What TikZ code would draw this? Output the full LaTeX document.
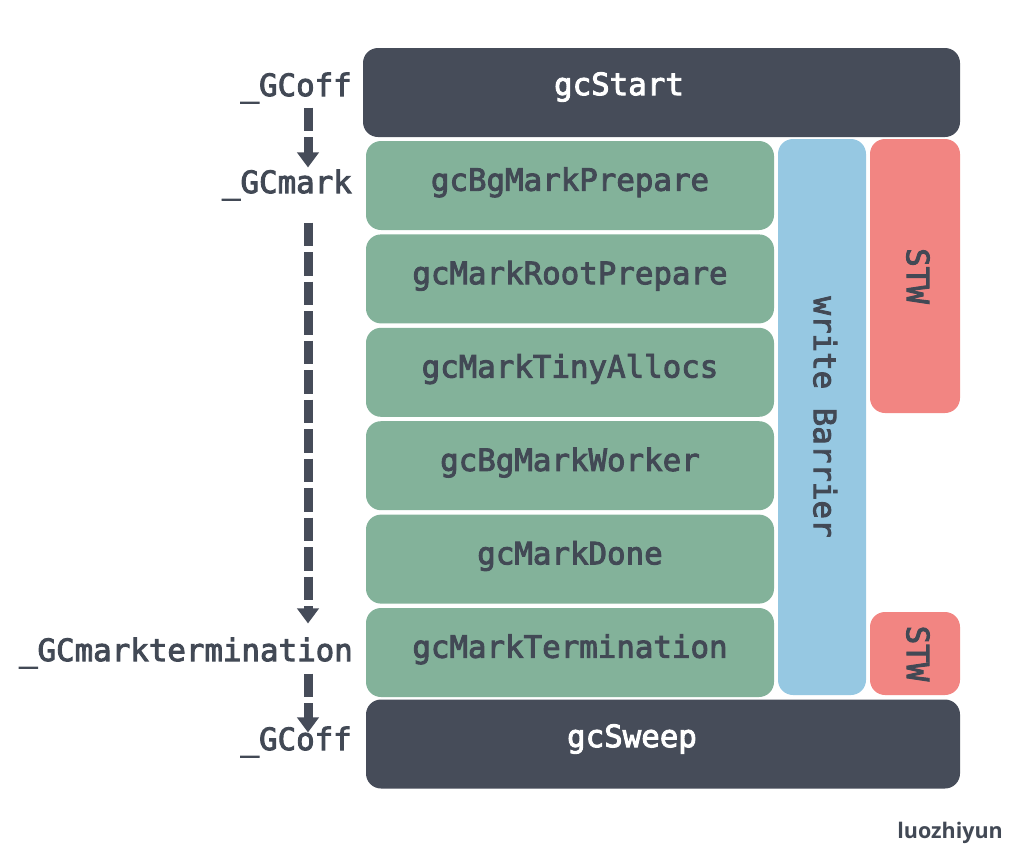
\documentclass[tikz,border=0pt]{standalone}
\usepackage{fontspec}
\newfontfamily\codefont{DejaVu Sans Mono}[FakeBold=3]
\newfontfamily\signfont{Open Sans}
\usetikzlibrary{positioning,arrows.meta}

\definecolor{slate}{HTML}{464C59}
\definecolor{ink}{HTML}{424955}
\definecolor{sage}{HTML}{83B29A}
\definecolor{sky}{HTML}{96C8E2}
\definecolor{coral}{HTML}{F28582}

\tikzset{
  code/.style={font=\codefont\fontsize{30.8}{30.8}\selectfont},
  box/.style={code, rounded corners=15pt, inner sep=0pt, minimum height=89pt,
    text height=23.5pt, text depth=13pt},
  darkbox/.style={box, fill=slate},
  lighttext/.style={code, text=white, inner sep=0pt},
  stage/.style={box, fill=sage, text=ink, minimum width=408pt},
  barrier/.style={box, fill=sky, text=ink, rotate=-90, minimum height=88pt,
    text depth=7pt},
  stw/.style={box, fill=coral, text=ink, rotate=-90, minimum height=90pt,
    text depth=7pt},
  phase/.style={code, text=ink, inner sep=0pt, anchor=east},
  flow/.style={draw=slate, line width=9pt, dash pattern=on 23.5pt off 6pt,
    -{Triangle[width=21pt,length=15pt]}},
  sign/.style={font=\signfont\bfseries\fontsize{21.5}{21.5}\selectfont, text=ink, inner sep=0pt}
}

\begin{document}
\begin{tikzpicture}[x=1pt,y=-1pt]
\useasboundingbox (0,0) rectangle (1029,855);

% start / sweep
\node[darkbox, minimum width=597pt] (start) at (661.5,92.5) {};
\node[lighttext] (startlbl) at (619,87) {gcStart};

% mark stages
\node[stage] (bgprep) at (570,185.5) {gcBgMarkPrepare};
\node[stage, below=4pt of bgprep] (rootprep) {gcMarkRootPrepare};
\node[stage, below=4pt of rootprep] (tiny) {gcMarkTinyAllocs};
\node[stage, below=4pt of tiny] (worker) {gcBgMarkWorker};
\node[stage, below=4pt of worker] (done) {gcMarkDone};
\node[stage, below=4pt of done] (term) {gcMarkTermination};

\node[barrier, minimum width=556pt] (wb) at (822,417) {write Barrier};
\node[stw, minimum width=274pt] (stwa) at (915,276) {STW};
\node[stw, minimum width=83pt] (stwb) at (915,653.5) {STW};

\node[darkbox, minimum width=594pt] (sweep) at (663,744) {};
\node[lighttext] (sweeplbl) at (632,739) {gcSweep};

% phases
\node[phase] (off) at (352,88) {\_GCoff};
\node[phase] (mark) at (352,185) {\_GCmark};
\node[phase] (markterm) at (353,653) {\_GCmarktermination};
\node[phase] (offend) at (352,742) {\_GCoff};

\draw[flow, shorten <=4pt, shorten >=2pt] (off.south -| 308,0) -- (mark.north -| 308,0);
\draw[flow, shorten <=22pt, shorten >=14pt] (mark.south -| 308,0) -- (markterm.north -| 308,0);
\draw[flow, shorten <=5pt, shorten >=-6pt] (markterm.south -| 308,0) -- (offend.north -| 308,0);

\node[sign, anchor=east] (author) at (1003,833) {luozhiyun};
\end{tikzpicture}
\end{document}
